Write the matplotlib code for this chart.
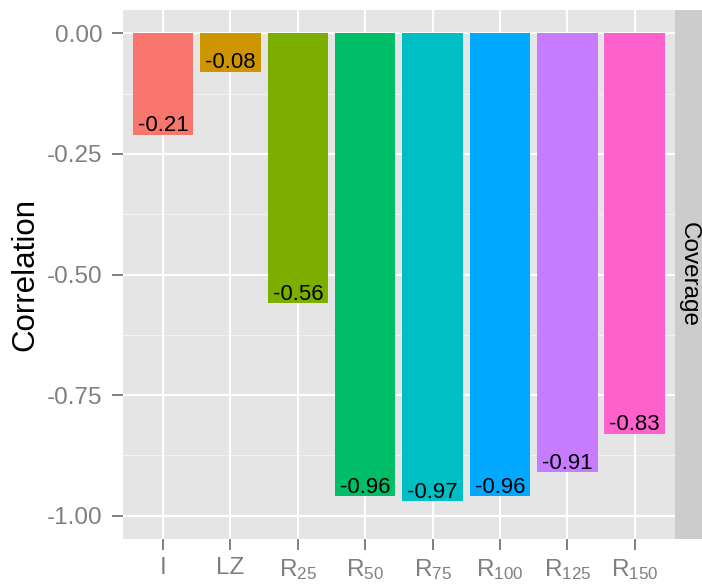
import matplotlib
matplotlib.use("Agg")
import matplotlib.pyplot as plt

plt.rcParams["font.family"] = ["Liberation Sans", "DejaVu Sans"]
plt.rcParams["axes.unicode_minus"] = False
plt.rcParams["mathtext.default"] = "regular"

# data
methods = ["I", "LZ", "R$_{25}$", "R$_{50}$", "R$_{75}$",
           "R$_{100}$", "R$_{125}$", "R$_{150}$"]
correlation = [-0.21, -0.08, -0.56, -0.96, -0.97, -0.96, -0.91, -0.83]
bar_colors = ["#F8766D", "#CD9600", "#7CAE00", "#00BE67",
              "#00BFC4", "#00A9FF", "#C77CFF", "#FF61CC"]
y_ticks = [0.0, -0.25, -0.5, -0.75, -1.0]
y_minor = [-0.125, -0.375, -0.625, -0.875]
facet = "Coverage"

W, H = 702, 585
fig = plt.figure(figsize=(W / 100, H / 100), dpi=100)

# panel in pixels: x 123..675, y 10..539
left, right, top, bottom = 122.7, 675, 10, 539
ax = fig.add_axes([left / W, 1 - bottom / H, (right - left) / W, (bottom - top) / H])
ax.set_facecolor("#E5E5E5")
for s in ax.spines.values():
    s.set_visible(False)

x = list(range(len(methods)))
ax.set_xlim(-0.6, len(methods) - 0.4)
ax.set_ylim(-1.0485, 0.0485)

# grid
for yv in y_minor:
    ax.axhline(yv, color="#F2F2F2", lw=0.75, zorder=1)
for yv in y_ticks:
    ax.axhline(yv, color="white", lw=1.5, zorder=1)
for xv in x:
    ax.axvline(xv, color="white", lw=1.5, zorder=1)

ax.bar(x, correlation, width=0.9, color=bar_colors, zorder=2)

for xi, v in zip(x, correlation):
    ax.annotate("%.2f" % v, (xi, v), xytext=(0, 2.5), textcoords="offset points",
                ha="center", va="baseline", fontsize=16, color="black", zorder=3)

ax.set_yticks(y_ticks)
ax.set_yticklabels(["%.2f" % t for t in y_ticks])
ax.set_xticks(x)
ax.set_xticklabels(methods)
ax.tick_params(axis="both", length=8, width=1.4, color="#7F7F7F",
               labelcolor="#7F7F7F", labelsize=17.5)
ax.tick_params(axis="y", pad=6.5)
ax.tick_params(axis="x", pad=5)

fig.text(25 / W, 1 - 274.5 / H, "Correlation", rotation=90, fontsize=22.5,
         ha="center", va="center", color="black")

# facet strip on the right
sax = fig.add_axes([right / W, 1 - bottom / H, (W - right) / W, (bottom - top) / H])
sax.set_facecolor("#CCCCCC")
sax.set_xticks([])
sax.set_yticks([])
for s in sax.spines.values():
    s.set_visible(False)
sax.text(0.5, 0.5, facet, rotation=270, fontsize=17.5, ha="center", va="center",
         transform=sax.transAxes, color="black")

fig.savefig("out.png", dpi=100)
